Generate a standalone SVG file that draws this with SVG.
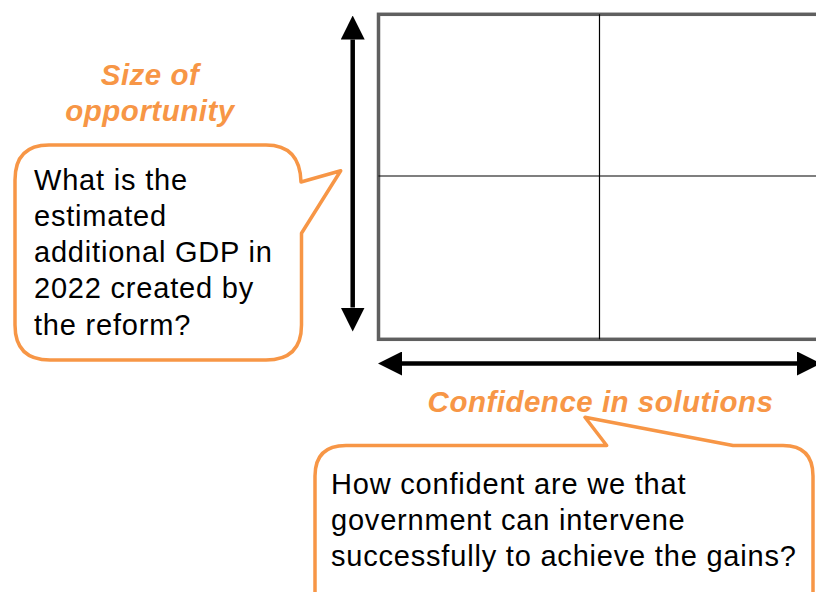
<svg xmlns="http://www.w3.org/2000/svg" width="816" height="592" viewBox="0 0 816 592">
  <style>
    .axis-label { font-family: "Liberation Sans", Arial, sans-serif; font-size: 29.5px; font-weight: bold; font-style: italic; fill: #F79646; letter-spacing: 0.5px; }
    .body { font-family: "Liberation Sans", Arial, sans-serif; font-size: 29px; fill: #000000; letter-spacing: 0.8px; }
    .callout { fill: #FFFFFF; stroke: #F79646; stroke-width: 3.5; stroke-linejoin: round; }
    .frame { fill: #FFFFFF; stroke: #5F5F5F; stroke-width: 3.5; }
    .divider { stroke: #000000; stroke-width: 1.2; }
    .axis { stroke: #000000; stroke-width: 4.5; fill: none; }
  </style>
  <defs>
    <marker id="head" viewBox="0 -12 24 24" refX="0" refY="0" markerWidth="24" markerHeight="24" markerUnits="userSpaceOnUse" orient="auto-start-reverse">
      <path d="M0,-12 L24,0 L0,12 Z" fill="#000000"/>
    </marker>
  </defs>

  <rect width="816" height="592" fill="#FFFFFF"/>

  <!-- 2x2 matrix -->
  <g id="matrix">
    <rect class="frame" x="378.5" y="14.3" width="460" height="325"/>
    <line class="divider" x1="599.5" y1="14.3" x2="599.5" y2="339.3"/>
    <line class="divider" x1="378.5" y1="176" x2="816" y2="176"/>
  </g>

  <!-- axis arrows -->
  <g id="connectors">
    <line class="axis" x1="352.7" y1="39.5" x2="352.7" y2="307.5" marker-start="url(#head)" marker-end="url(#head)"/>
    <line class="axis" x1="402" y1="363.5" x2="797" y2="363.5" marker-start="url(#head)" marker-end="url(#head)"/>
  </g>

  <!-- vertical axis title -->
  <g id="label-size">
    <text class="axis-label" x="150" y="85" text-anchor="middle">Size of</text>
    <text class="axis-label" x="150" y="121.3" text-anchor="middle">opportunity</text>
  </g>

  <!-- horizontal axis title -->
  <g id="label-confidence">
    <text class="axis-label" x="600.5" y="411.7" text-anchor="middle">Confidence in solutions</text>
  </g>

  <!-- callout for the vertical axis -->
  <g id="callout-gdp">
    <path class="callout" d="M49,145 L266,145 Q300,145 301,182 L340.7,170.7 L301.5,233.3 L301.5,325 Q301.5,360 266,360 L50,360 Q15,360 15,325 L15,180 Q15,145 49,145 Z"/>
    <text class="body" x="34" y="189.5">What is the</text>
    <text class="body" x="34" y="225.8">estimated</text>
    <text class="body" x="34" y="262.1">additional GDP in</text>
    <text class="body" x="34" y="298.4">2022 created by</text>
    <text class="body" x="34" y="334.7">the reform?</text>
  </g>

  <!-- callout for the horizontal axis -->
  <g id="callout-confidence">
    <path class="callout" d="M346,445.5 L606.7,445.5 L585,417.3 L733,445.5 L783,445.5 Q813,445.5 813,476 L813,620 L315,620 L315,476 Q315,445.5 346,445.5 Z"/>
    <text class="body" x="331" y="494.3">How confident are we that</text>
    <text class="body" x="331" y="530">government can intervene</text>
    <text class="body" x="331" y="565.6">successfully to achieve the gains?</text>
  </g>
</svg>
